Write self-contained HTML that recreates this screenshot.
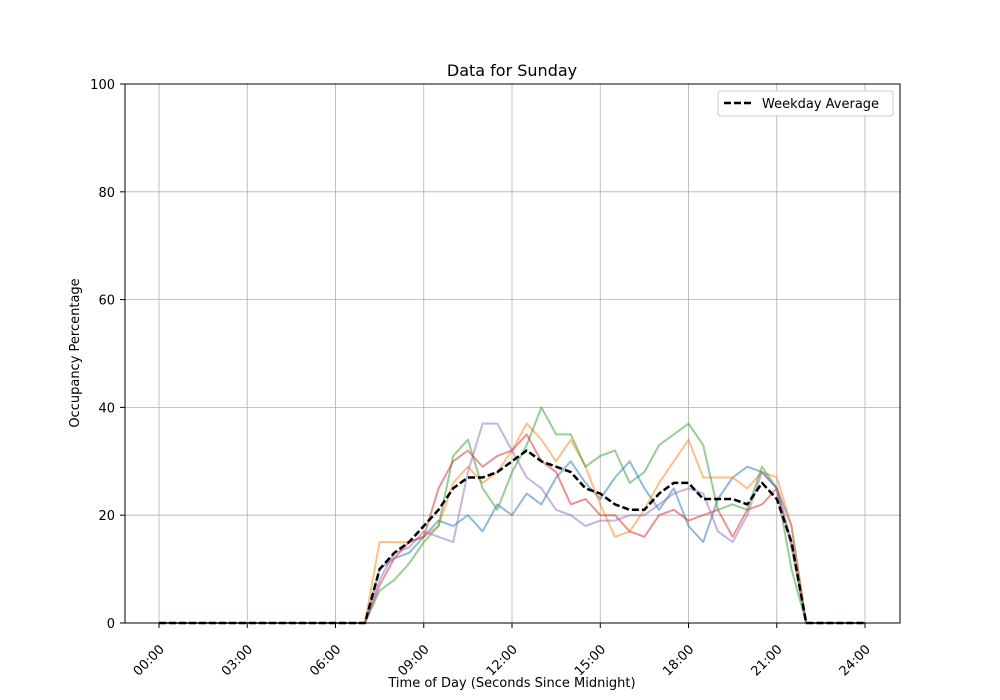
<!DOCTYPE html>
<html><head><meta charset="utf-8"><style>body{margin:0;background:#fff}svg{display:block;font-family:"DejaVu Sans","Liberation Sans",sans-serif}</style></head>
<body>
<svg id="s" width="1000" height="700" xmlns="http://www.w3.org/2000/svg">
<rect width="1000" height="700" fill="#fff"/>
<g id="grid" stroke="#b0b0b0" stroke-width="0.8"></g>
<g id="series" fill="none" stroke-width="2" stroke-linejoin="round"></g>
<rect x="125" y="84" width="775" height="539" fill="none" stroke="#000" stroke-width="1"/>
<g id="ticks" font-size="13" fill="#000"></g>
<text x="512" y="76" font-size="16" text-anchor="middle">Data for Sunday</text>
<text x="512" y="687" font-size="13" text-anchor="middle">Time of Day (Seconds Since Midnight)</text>
<text transform="translate(79,353) rotate(-90)" font-size="13" text-anchor="middle">Occupancy Percentage</text>
<rect x="718" y="91" width="175" height="25" rx="3" fill="#fff" stroke="#ccc" stroke-width="1"/>
<line x1="724" y1="103" x2="752" y2="103" stroke="#000" stroke-width="2.5" stroke-dasharray="7,3"/>
<text x="762" y="108" font-size="13">Weekday Average</text>
</svg>
<script>
const X=h=>159+h*29.417, Y=v=>623-v*5.39, ns="http://www.w3.org/2000/svg";
const g=document.getElementById('grid'),t=document.getElementById('ticks'),S=document.getElementById('series');
function el(p,tag,a,txt){const e=document.createElementNS(ns,tag);for(const k in a)e.setAttribute(k,a[k]);if(txt)e.textContent=txt;p.appendChild(e);return e;}
for(let h=0;h<=24;h+=3){const x=X(h);el(g,'line',{x1:x,x2:x,y1:84,y2:623});el(t,'line',{x1:x,x2:x,y1:623,y2:628,stroke:'#000'});
el(t,'text',{transform:`translate(${x+6},${650}) rotate(-45)`,'text-anchor':'end'},String(h).padStart(2,'0')+':00');}
for(let v=0;v<=100;v+=20){const y=Y(v);el(g,'line',{x1:125,x2:900,y1:y,y2:y});el(t,'line',{x1:120,x2:125,y1:y,y2:y,stroke:'#000'});
el(t,'text',{x:115,y:y+5,'text-anchor':'end'},String(v));}
const D={
'#1f77b4':[0,10,12,13,16,19,18,20,17,22,20,24,22,27,30,26,23,27,30,25,21,25,18,15,23,27,29,28,25,18,0],
'#ff7f0e':[0,15,15,15,16,18,26,29,26,28,32,37,34,30,34,29,22,16,17,21,26,30,34,27,27,27,25,28,27,18,0],
'#2ca02c':[0,6,8,11,15,18,31,34,25,21,28,33,40,35,35,29,31,32,26,28,33,35,37,33,21,22,21,29,25,10,0],
'#d62728':[0,7,12,15,16,25,30,32,29,31,32,35,30,28,22,23,20,20,17,16,20,21,19,20,21,16,21,22,25,15,0],
'#9467bd':[0,8,13,14,17,16,15,28,37,37,32,27,25,21,20,18,19,19,20,20,22,24,25,24,17,15,20,28,25,14,0]};
const avg=[0,10,13,15,18,21,25,27,27,28,30,32,30,29,28,25,24,22,21,21,24,26,26,23,23,23,22,26,23,15,0];
function pts(a){let p=[[0,0],[6.9,0]];a.forEach((v,i)=>p.push([7+i*0.5,v]));p.push([24,0]);return p.map(q=>X(q[0]).toFixed(1)+','+Y(q[1]).toFixed(1)).join(' ');}
for(const c in D)el(S,'polyline',{points:pts(D[c]),stroke:c,'stroke-opacity':0.5});
el(S,'polyline',{points:pts(avg),stroke:'#000','stroke-width':2.5,'stroke-dasharray':'7,3'});
</script>
</body></html>
